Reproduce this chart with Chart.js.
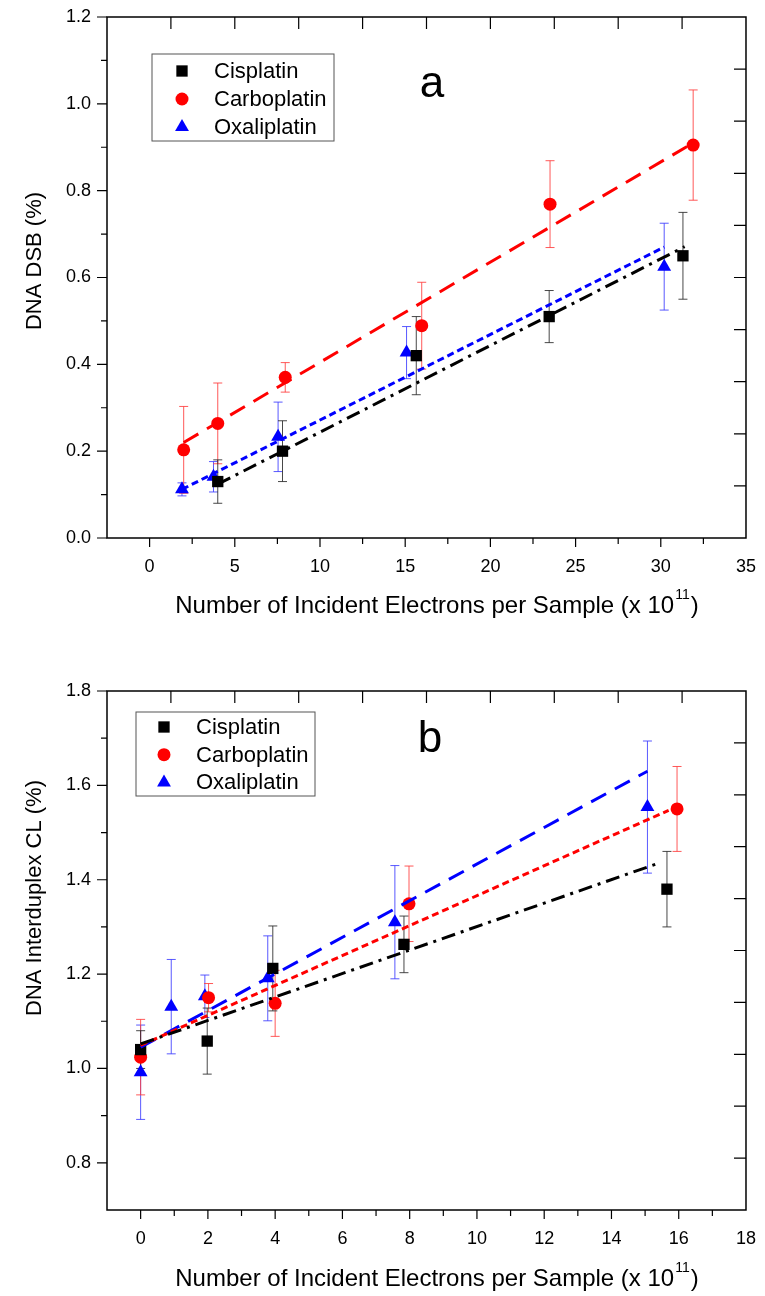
<!DOCTYPE html>
<html lang="en">
<head>
<meta charset="UTF-8">
<title>DNA damage vs incident electrons</title>
<script src="https://cdn.jsdelivr.net/npm/chart.js@4.4.1/dist/chart.umd.min.js"></script>
<style>
  body { margin: 0; background: #fff; }
  canvas { display: block; }
</style>
</head>
<body>
<canvas id="chartA" width="765" height="640"></canvas>
<canvas id="chartB" width="765" height="656"></canvas>
<script>
// ---- panel a : DNA DSB (%) ----
const cisA_x = [4.0, 7.8, 15.65, 23.45, 31.3];
const cisA_y = [0.13, 0.20, 0.42, 0.51, 0.65];
const cisA_err = [0.05, 0.07, 0.09, 0.06, 0.10];
const carA_x = [2.0, 4.0, 7.96, 15.97, 23.5, 31.9];
const carA_y = [0.203, 0.264, 0.370, 0.489, 0.769, 0.905];
const carA_err = [0.10, 0.093, 0.034, 0.10, 0.10, 0.127];
const oxaA_x = [1.9, 3.75, 7.54, 15.08, 30.2];
const oxaA_y = [0.112, 0.141, 0.233, 0.427, 0.625];
const oxaA_err = [0.015, 0.035, 0.08, 0.06, 0.10];
// linear fits (end points)
const cisA_fit = [[4.0, 0.124], [31.4, 0.671]];
const carA_fit = [[2.0, 0.22], [31.9, 0.91]];
const oxaA_fit = [[1.9, 0.112], [30.2, 0.67]];

// ---- panel b : DNA Interduplex CL (%) ----
const cisB_x = [0, 1.98, 3.93, 7.83, 15.65];
const cisB_y = [1.04, 1.058, 1.212, 1.263, 1.38];
const cisB_err = [0.04, 0.07, 0.09, 0.06, 0.08];
const carB_x = [0, 2.02, 4.0, 7.98, 15.95];
const carB_y = [1.024, 1.15, 1.138, 1.349, 1.55];
const carB_err = [0.08, 0.03, 0.07, 0.08, 0.09];
const oxaB_x = [0, 0.91, 1.91, 3.78, 7.56, 15.07];
const oxaB_y = [0.992, 1.131, 1.153, 1.191, 1.31, 1.554];
const oxaB_err = [0.10, 0.10, 0.045, 0.09, 0.12, 0.14];
const cisB_fit = [[0, 1.052], [15.4, 1.435]];
const carB_fit = [[0, 1.049], [15.7, 1.547]];
const oxaB_fit = [[0, 1.045], [15.07, 1.63]];

const FONT = '"Liberation Sans", Arial, Helvetica, sans-serif';
Chart.defaults.font.family = FONT;
Chart.defaults.color = '#000';

function pts(xs, ys) { return xs.map((x, i) => ({ x: x, y: ys[i] })); }

function errorBars(xs, ys, es, color) {
    const d = [];
    xs.forEach((x, i) => {
        d.push({ x: x, y: ys[i] - es[i] }, { x: x, y: ys[i] + es[i] }, { x: x, y: null });
    });
    return { data: d, showLine: true, spanGaps: false, borderColor: color, borderWidth: 1,
             pointStyle: 'line', pointRadius: 4.5, pointBorderColor: color, pointBorderWidth: 1,
             pointHoverRadius: 4.5, order: 3 };
}

function markers(label, xs, ys, style, r, color) {
    return { label: label, data: pts(xs, ys), pointStyle: style, pointRadius: r, pointHoverRadius: r,
             backgroundColor: color, borderColor: color, pointBorderWidth: 0, showLine: false, order: 2 };
}

function fitLine(f, color, dash) {
    return { data: f.map(p => ({ x: p[0], y: p[1] })), showLine: true, borderColor: color,
             borderWidth: 3, borderDash: dash, pointRadius: 0, pointHoverRadius: 0, order: 1 };
}

function drawMarker(ctx, style, x, y, r, color) {
    ctx.fillStyle = color;
    ctx.beginPath();
    if (style === 'rect') {
        const s = r * Math.SQRT1_2;
        ctx.rect(x - s, y - s, 2 * s, 2 * s);
    } else if (style === 'triangle') {
        ctx.moveTo(x, y - r);
        ctx.lineTo(x + r * Math.sqrt(3) / 2, y + r / 2);
        ctx.lineTo(x - r * Math.sqrt(3) / 2, y + r / 2);
        ctx.closePath();
    } else {
        ctx.arc(x, y, r, 0, Math.PI * 2);
    }
    ctx.fill();
}

// frame, minor ticks, legend box, panel letter and axis titles
const deco = {
    id: 'deco',
    afterDraw(chart, args, o) {
        const { ctx, chartArea: a, scales: { x, y } } = chart;
        const w = a.right - a.left, h = a.bottom - a.top;
        ctx.save();
        ctx.strokeStyle = '#000';
        ctx.lineWidth = 1.5;
        ctx.strokeRect(a.left, a.top, w, h);

        ctx.lineWidth = 1.2;
        ctx.beginPath();
        const n0 = Math.ceil(x.min / o.xMinor - 1e-9), n1 = Math.floor(x.max / o.xMinor + 1e-9);
        for (let n = n0; n <= n1; n++) {
            const v = n * o.xMinor, px = x.getPixelForValue(v);
            if (px <= a.left + 1 || px >= a.right - 1) continue;
            const major = Math.abs(v / o.xMajor - Math.round(v / o.xMajor)) < 1e-6;
            ctx.moveTo(px, a.bottom);
            ctx.lineTo(px, a.bottom + (major ? 9 : 6));
        }
        const m0 = Math.ceil(y.min / o.yMinor - 1e-9), m1 = Math.floor(y.max / o.yMinor + 1e-9);
        for (let n = m0; n <= m1; n++) {
            const v = n * o.yMinor, py = y.getPixelForValue(v);
            const major = Math.abs(v / o.yMajor - Math.round(v / o.yMajor)) < 1e-6;
            if (py >= a.bottom - 1 && !major) continue;
            ctx.moveTo(a.left, py);
            ctx.lineTo(a.left - (major ? 10 : 6), py);
        }
        // inward ticks on top and right
        for (let i = 1; i < 10; i++) {
            const px = a.left + i * w / 10, py = a.top + i * h / 10;
            ctx.moveTo(px, a.top); ctx.lineTo(px, a.top + 12);
            ctx.moveTo(a.right, py); ctx.lineTo(a.right - 12, py);
        }
        ctx.stroke();

        // legend
        const L = o.legend;
        ctx.strokeStyle = '#555';
        ctx.lineWidth = 1;
        ctx.strokeRect(L.x, L.y, L.w, L.h);
        ctx.font = '22px ' + FONT;
        ctx.textAlign = 'left';
        ctx.textBaseline = 'middle';
        let row = 0;
        chart.data.datasets.forEach(ds => {
            if (!ds.label) return;
            const cy = L.y + L.rowTop + row * L.rowGap;
            drawMarker(ctx, ds.pointStyle, L.markX, cy, ds.pointRadius, ds.backgroundColor);
            ctx.fillStyle = '#000';
            ctx.fillText(ds.label, L.textX, cy + 1);
            row++;
        });

        // panel letter
        ctx.font = '44px ' + FONT;
        ctx.textAlign = 'center';
        ctx.textBaseline = 'alphabetic';
        ctx.fillText(o.letter.text, o.letter.x, o.letter.y);

        // y title
        ctx.save();
        ctx.translate(o.yTitle.x, o.yTitle.y);
        ctx.rotate(-Math.PI / 2);
        ctx.font = '22px ' + FONT;
        ctx.textAlign = 'center';
        ctx.textBaseline = 'middle';
        ctx.fillText(o.yTitle.text, 0, 0);
        ctx.restore();

        // x title with superscript
        const t1 = 'Number of Incident Electrons per Sample (x 10', t2 = '11', t3 = ')';
        ctx.font = '24px ' + FONT;
        const w1 = ctx.measureText(t1).width, w3 = ctx.measureText(t3).width;
        ctx.font = '14px ' + FONT;
        const w2 = ctx.measureText(t2).width;
        let sx = o.xTitle.x - (w1 + w2 + w3) / 2;
        ctx.textAlign = 'left';
        ctx.textBaseline = 'middle';
        ctx.font = '24px ' + FONT;
        ctx.fillText(t1, sx, o.xTitle.y);
        ctx.font = '14px ' + FONT;
        ctx.fillText(t2, sx + w1 + 1, o.xTitle.y - 11);
        ctx.font = '24px ' + FONT;
        ctx.fillText(t3, sx + w1 + w2 + 2, o.xTitle.y);
        ctx.restore();
    }
};

function axes(xmin, xmax, xstep, ymin, ymax, xHeight) {
    return {
        x: { type: 'linear', min: xmin, max: xmax,
             afterFit: s => { s.height = xHeight; },
             ticks: { stepSize: xstep, includeBounds: false, padding: 9, font: { size: 18 }, color: '#000' },
             grid: { drawOnChartArea: false, tickLength: 9, tickColor: 'rgba(0,0,0,0)' },
             border: { display: false } },
        y: { type: 'linear', min: ymin, max: ymax,
             afterFit: s => { s.width = 107; },
             ticks: { stepSize: 0.2, includeBounds: false, padding: 6, font: { size: 18 }, color: '#000',
                      callback: v => v.toFixed(1) },
             grid: { drawOnChartArea: false, tickLength: 10, tickColor: 'rgba(0,0,0,0)' },
             border: { display: false } }
    };
}

new Chart(document.getElementById('chartA'), {
    type: 'scatter',
    data: {
        datasets: [
            errorBars(cisA_x, cisA_y, cisA_err, 'rgba(40,40,40,0.85)'),
            errorBars(carA_x, carA_y, carA_err, 'rgba(255,60,60,0.85)'),
            errorBars(oxaA_x, oxaA_y, oxaA_err, 'rgba(60,60,255,0.85)'),
            markers('Cisplatin', cisA_x, cisA_y, 'rect', 8, '#000000'),
            markers('Carboplatin', carA_x, carA_y, 'circle', 6.5, '#ff0000'),
            markers('Oxaliplatin', oxaA_x, oxaA_y, 'triangle', 8, '#0000ff'),
            fitLine(cisA_fit, '#000000', [14, 6, 3, 6]),
            fitLine(carA_fit, '#ff0000', [17, 10]),
            fitLine(oxaA_fit, '#0000ff', [7, 4])
        ]
    },
    options: {
        responsive: false,
        animation: false,
        layout: { padding: { top: 17, right: 15, left: 0, bottom: 0 } },
        scales: axes(-2.5, 35, 5, 0, 1.2, 102),
        plugins: {
            legend: { display: false },
            tooltip: { enabled: false },
            deco: {
                xMinor: 2.5, xMajor: 5, yMinor: 0.1, yMajor: 0.2,
                legend: { x: 152, y: 54, w: 182, h: 87, markX: 182, textX: 214, rowTop: 17, rowGap: 28 },
                letter: { text: 'a', x: 432, y: 97 },
                yTitle: { text: 'DNA DSB (%)', x: 35, y: 261 },
                xTitle: { x: 436, y: 606 }
            }
        }
    },
    plugins: [deco]
});

new Chart(document.getElementById('chartB'), {
    type: 'scatter',
    data: {
        datasets: [
            errorBars(cisB_x, cisB_y, cisB_err, 'rgba(40,40,40,0.85)'),
            errorBars(carB_x, carB_y, carB_err, 'rgba(255,60,60,0.85)'),
            errorBars(oxaB_x, oxaB_y, oxaB_err, 'rgba(60,60,255,0.85)'),
            markers('Cisplatin', cisB_x, cisB_y, 'rect', 8, '#000000'),
            markers('Carboplatin', carB_x, carB_y, 'circle', 6.5, '#ff0000'),
            markers('Oxaliplatin', oxaB_x, oxaB_y, 'triangle', 8, '#0000ff'),
            fitLine(cisB_fit, '#000000', [14, 6, 3, 6]),
            fitLine(carB_fit, '#ff0000', [7, 4]),
            fitLine(oxaB_fit, '#0000ff', [17, 10])
        ]
    },
    options: {
        responsive: false,
        animation: false,
        layout: { padding: { top: 51, right: 15, left: 0, bottom: 0 } },
        scales: axes(-1, 18, 2, 0.7, 1.8, 86),
        plugins: {
            legend: { display: false },
            tooltip: { enabled: false },
            deco: {
                xMinor: 1, xMajor: 2, yMinor: 0.1, yMajor: 0.2,
                legend: { x: 136, y: 72, w: 179, h: 84, markX: 164, textX: 196, rowTop: 15, rowGap: 27.7 },
                letter: { text: 'b', x: 430, y: 112 },
                yTitle: { text: 'DNA Interduplex CL (%)', x: 35, y: 258 },
                xTitle: { x: 436, y: 639 }
            }
        }
    },
    plugins: [deco]
});
</script>
</body>
</html>
